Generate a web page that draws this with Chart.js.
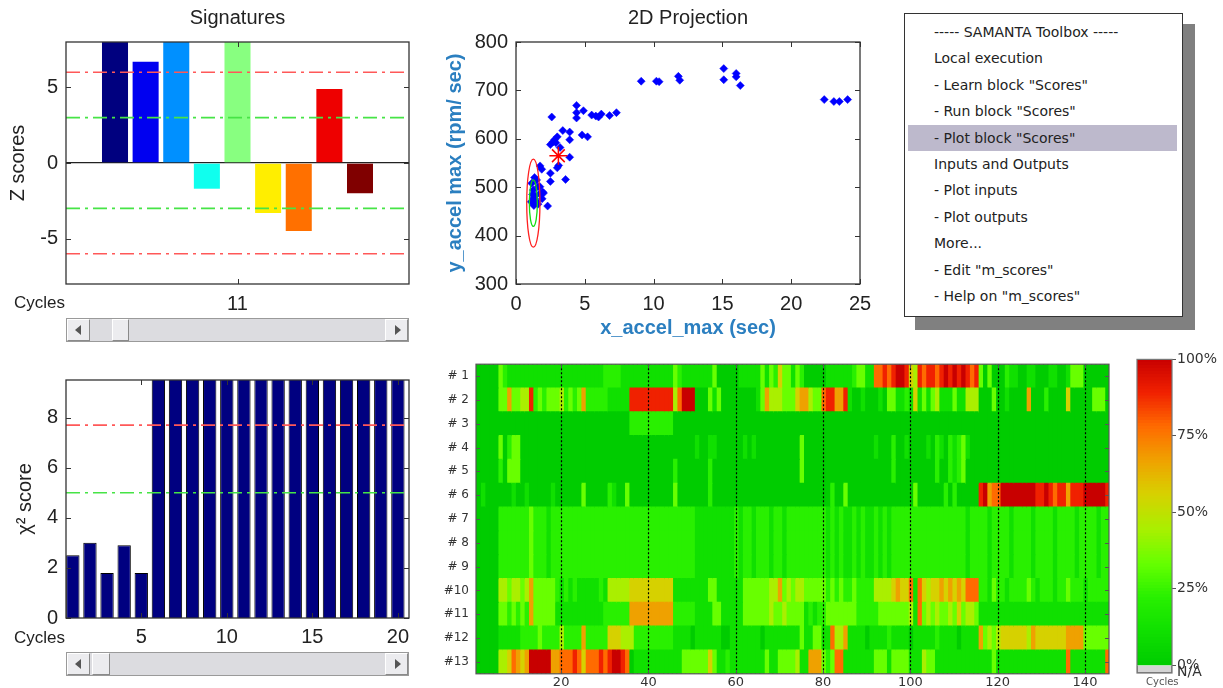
<!DOCTYPE html>
<html><head><meta charset="utf-8">
<script src="https://cdn.jsdelivr.net/npm/chart.js@4.4.1/dist/chart.umd.min.js"></script>
<style>
html,body{margin:0;padding:0;background:#fff;width:1223px;height:688px;overflow:hidden;}
body{position:relative;font-family:"Liberation Sans",Arial,sans-serif;color:#222;}
.pane{position:absolute;}
.lbl{position:absolute;font-size:17px;line-height:20px;color:#222;}
.sb{position:absolute;background:#dcdce0;border:1px solid #9a9a9a;box-sizing:border-box;}
.sb .btn,.sb .thumb{position:absolute;top:0;bottom:0;background:#ececef;border:1px solid;border-color:#fff #8a8a8a #8a8a8a #fff;box-sizing:border-box;}
.sb .btn.l{left:0;width:23px;}
.sb .btn.r{right:0;width:23px;}
.tri{position:absolute;top:50%;margin-top:-5px;width:0;height:0;border-top:5px solid transparent;border-bottom:5px solid transparent;}
.btn.l .tri{left:7px;border-right:6px solid #555;}
.btn.r .tri{left:9px;border-left:6px solid #555;}
#menuShadow{position:absolute;left:915px;top:24px;width:280px;height:306px;background:#808080;}
#menu{position:absolute;left:904px;top:13px;width:277px;height:302px;border:1px solid #333;background:#fff;font-family:"DejaVu Sans",sans-serif;font-size:14px;color:#222;}
#menu .it{position:absolute;left:0;right:0;height:26px;line-height:26px;padding-left:29px;white-space:nowrap;}
#menu .it.hl{background:#bdb9cc;left:3px;right:5px;padding-left:26px;}
</style></head>
<body>
<div class="pane" style="left:0;top:0;width:420px;height:320px"><canvas id="cSig"></canvas></div>
<div class="lbl" style="left:14px;top:293px">Cycles</div>
<div class="sb" style="left:66px;top:318px;width:343px;height:24px">
  <div class="btn l"><div class="tri"></div></div>
  <div class="thumb" style="left:45px;width:17px"></div>
  <div class="btn r"><div class="tri"></div></div>
</div>

<div class="pane" style="left:0;top:360px;width:420px;height:300px"><canvas id="cChi"></canvas></div>
<div class="lbl" style="left:14px;top:628px">Cycles</div>
<div class="sb" style="left:66px;top:652px;width:343px;height:24px">
  <div class="btn l"><div class="tri"></div></div>
  <div class="thumb" style="left:25px;width:18px"></div>
  <div class="btn r"><div class="tri"></div></div>
</div>

<div class="pane" style="left:430px;top:0;width:450px;height:345px"><canvas id="cSc"></canvas></div>

<div id="menuShadow"></div>
<div id="menu"></div>

<div class="pane" style="left:420px;top:350px;width:700px;height:338px"><canvas id="cHeat"></canvas></div>
<div class="pane" style="left:1125px;top:350px;width:98px;height:338px"><canvas id="cBar"></canvas></div>
<div style="position:absolute;left:1146px;top:676px;font:10px 'DejaVu Sans',sans-serif;color:#555">Cycles</div>

<script>
// ---------------- DATA ----------------
// Signatures (Z scores at the selected cycle)
const sigCycle = '11';
const sigVars = [1, 2, 3, 4, 5, 6, 7, 8, 9];
const sigScores = [10.2, 6.7, 9.1, -1.7, 8.7, -3.3, -4.5, 4.9, -2.0];
const sigRedLimits = [6, -6];
const sigGreenLimits = [3, -3];
const sigYTicks = [-5, 0, 5];

// Chi-square scores per cycle
const chiCycles = [1,2,3,4,5,6,7,8,9,10,11,12,13,14,15,16,17,18,19,20];
const chiScores = [2.5, 3.0, 1.8, 2.9, 1.8, 24, 22, 26, 23, 25, 21, 24, 27, 22, 25, 23, 26, 24, 22, 25];
const chiRedLimit = [7.7];
const chiGreenLimit = [5.0];
const chiXTicks = [5, 10, 15, 20];
const chiYTicks = [0, 2, 4, 6, 8];

// 2D projection
const scX = [9.1,10.2,10.4,11.8,11.9,15.1,15.1,16.0,16.0,16.3,22.4,23.1,23.5,24.1,
  4.4,4.4,4.4,4.9,2.6,5.5,5.8,6.0,6.2,6.8,7.3,4.8,5.2,3.4,3.9,3.9,2.5,2.7,2.8,3.0,2.9,3.2,3.9,3.0,3.1,3.6,2.5,2.5,2.3,1.75,1.87,2.0,1.9,
  1.5,1.6,1.74,1.26,1.26,1.5,1.14,1.74,1.94,1.3,1.4,1.2,1.6,1.35,1.1];
const scY = [719,719,718,729,721,745,722,735,728,710,681,677,677,681,
  669,654,643,658,645,649,647,645,651,648,654,608,604,617,614,598,588,594,598,604,592,582,562,540,545,516,529,512,461,544,537,488,476,
  515,501,487,494,477,470,508,501,490,462,482,485,465,520,470];
const starX = [3.08];
const starY = [565];
const ellCx = [1.26, 1.26];
const ellCy = [467, 467];
const ellRx = [0.48, 0.29];
const ellRy = [91, 48];

// Heat map: one string per signature, one digit per cycle (0 = 0% ... 9 = 100%)
const heatLabels = ['# 1','# 2','# 3','# 4','# 5','# 6','# 7','# 8','# 9','#10','#11','#12','#13'];
const R1  = "00000 32 111111111111 1111111111 2222 111 111111111 32 1111111 3 00000 11111 31325331 32 00000111111 2331 1 7787 8998 54 87887898 989878 3030002 11001100011001 333 000000";
const R2  = "00000 33 6 33 44 8 232333 4 2323 6 22222 11111 8 888888888 47999 000 313 00000000 136444333 566433788668 100100010 33 1121 5 13134111 311444 000 3 0010000 6 000 2 0000 5 00000 333 0";
const R3  = "0000000000 0000000000 0000000000 00000 2222222222 0000000000 0000000000 0000000000 0000000000 0000000000 0000000000 0000000000 0000000000 0000000000 0000000000";
const R4  = "00000 30233 0000000000 0000000000 0000000000 0000000000 10011 000000 101 0000000000 3 0000000000000000 1 000 2 00 1 0000 1021021231 0000000000 0000000000 0000000000 00";
const R5  = "00000 20333 0000000000 0000000000 0000000000 00000 2 0000000 2 0000000000 0000000000 3 0000000000 0000000000 2 000000000 2 00 2123 0000000000 0000000000 0000000000 000";
const R6  = "010000001001 000001000000 3 00000 2 100 3 0000000000 3 0000000 2 0000000000 0000000000 0000000 2 00 3 0000000000 00000 3 000000 2 0 2 00000 89 6 77 9999999 9889 8788 6 888 99999 8";
const R7  = "00000 22222 22 3 222122 22222222222 222222 222222222 22222 111111111 21221222122122 2222222 121211212112121 22222222222222 222122221222212222122221222212222122";
const R8  = "00000 22222 22 3 222122 22222222222 222222 222222222 22222 111111111 21221222122122 2222222 121211212112121 22222222222222 222122221222212222122221222212222122";
const R9  = "00000 22222 22 3 222122 22222222222 222222 222222222 22222 111111111 21221222122122 2222222 121211212112121 22222222222222 222122221222212222122221222212222122";
const R10 = "00000 44344346 33333 2 12121111121 44444 5 555555555 11111111 33 111111 3333 33 44 6 343 44 33333 23232232222 4444 5655 7 1 7 5455 6 56565 777 221 3 2212222 3 21222122 3 222122222";
const R11 = "00000 33 23232 6 33333 11111111111 222222 6 666666666 22222 1111 33 11111 3333 33433433 33 12122 3333333 22222 3333333 4 1 7 3434334 3 5 3 44 3 1111111111 1111111111 1111111111";
const R12 = "00000 11111 2222 3 2222 4 2222 6 22222 555 44 4 222222222 1111011111 1001111111 01111111 131133 11 7 44 6 1111011112 1111011111 2111101111 6 3434 5555554 6 5555555 6666 333333";
const R13 = "00000 445 76 56 99999 66 77787 5 77787 8998 7 0 11111111111 333333 5 3 11211111111 3 11 3333 4 11 666 3 23 77 1111111 333 1 3333 111 4 33 1111111111111 3 1111111111111111 7 11111111 7";
const heatXTicks = [20, 40, 60, 80, 100, 120, 140];
const barTicks = [100, 75, 50, 25, 0];
const naLabel = 'N/A';

// colour map (fraction -> rgb)
const cmapPos = [0, 0.11, 0.22, 0.33, 0.44, 0.56, 0.67, 0.78, 0.89, 1];
const cmapRGB = [[0,204,0],[16,224,0],[40,240,0],[102,255,0],[168,240,0],[216,208,0],[240,160,0],[255,106,0],[240,32,0],[200,0,0]];

// ---------------- HELPERS ----------------
function cmap(t) {
  t = Math.max(0, Math.min(1, t));
  let i = 0;
  while (i < cmapPos.length - 2 && t > cmapPos[i + 1]) i++;
  const f = (t - cmapPos[i]) / (cmapPos[i + 1] - cmapPos[i]);
  const a = cmapRGB[i], b = cmapRGB[i + 1];
  return 'rgb(' + a.map((v, k) => Math.round(v + (b[k] - v) * f)).join(',') + ')';
}
const ticksAt = vals => s => { s.ticks = vals.map(v => ({ value: v })); };

Chart.defaults.font.family = '"Liberation Sans", Arial, sans-serif';
Chart.defaults.font.size = 20;
Chart.defaults.color = '#222';
Chart.defaults.animation = false;
Chart.defaults.plugins.legend.display = false;
Chart.defaults.plugins.tooltip.enabled = false;

const matlabAxes = {
  id: 'matlab',
  afterDatasetsDraw(chart, args, o) {
    if (!o || o.off) return;
    const ctx = chart.ctx, a = chart.chartArea;
    ctx.save();
    if (o.vlines) {
      const s = chart.scales.x;
      ctx.strokeStyle = '#000'; ctx.lineWidth = 1.2; ctx.setLineDash([2, 2]);
      s.ticks.forEach((t, i) => {
        const x = Math.round(s.getPixelForTick(i)) + 0.5;
        ctx.beginPath(); ctx.moveTo(x, a.top); ctx.lineTo(x, a.bottom); ctx.stroke();
      });
      ctx.setLineDash([]);
    }
    const len = o.tickLen || 0;
    ctx.strokeStyle = o.color || '#333'; ctx.lineWidth = 1;
    if (len) {
      Object.values(chart.scales).forEach(s => {
        if (!s.options.display) return;
        s.ticks.forEach((t, i) => {
          const p = Math.round(s.getPixelForTick(i)) + 0.5;
          ctx.beginPath();
          if (s.isHorizontal()) {
            ctx.moveTo(p, a.bottom); ctx.lineTo(p, a.bottom - len);
            ctx.moveTo(p, a.top); ctx.lineTo(p, a.top + len);
          } else {
            ctx.moveTo(a.left, p); ctx.lineTo(a.left + len, p);
            ctx.moveTo(a.right, p); ctx.lineTo(a.right - len, p);
          }
          ctx.stroke();
        });
      });
    }
    ctx.lineWidth = o.boxWidth || 1.3;
    ctx.strokeRect(a.left, a.top, a.right - a.left, a.bottom - a.top);
    ctx.restore();
  }
};
Chart.register(matlabAxes);

function limitLine(v, color, xmin, xmax) {
  return { type: 'line', data: [{ x: xmin, y: v }, { x: xmax, y: v }], borderColor: color,
    borderWidth: 1.6, borderDash: [14, 5, 3, 5], pointRadius: 0, order: 0, clip: 0 };
}
const RED_LIM = 'rgb(255,88,88)', GREEN_LIM = 'rgb(70,228,70)';
const NO_GRID = { display: false, drawTicks: false, offset: false };

// ---------------- SIGNATURES ----------------
const sigXRange = [-0.6, 10.6];
const sigColors = ['#00007f', '#0000f0', '#0090ff', '#10ffee', '#88ff80', '#ffee00', '#ff7000', '#ee0000', '#800000'];
new Chart(document.getElementById('cSig'), {
  type: 'bar',
  data: { datasets: [
    ...sigRedLimits.map(v => limitLine(v, RED_LIM, sigXRange[0], sigXRange[1])),
    ...sigGreenLimits.map(v => limitLine(v, GREEN_LIM, sigXRange[0], sigXRange[1])),
    { type: 'bar', data: sigVars.map((v, i) => ({ x: v, y: sigScores[i] })), backgroundColor: sigColors,
      barPercentage: 0.85, categoryPercentage: 1, clip: 0, order: 2 }
  ]},
  options: {
    responsive: true, maintainAspectRatio: false,
    layout: { padding: { top: 0, left: 0, right: 11, bottom: 0 } },
    plugins: {
      title: { display: true, text: 'Signatures', fullSize: false, font: { size: 20, weight: 'normal' }, padding: { top: 6, bottom: 12 }, color: '#222' },
      matlab: { tickLen: 5 }
    },
    scales: {
      x: { type: 'linear', offset: false, min: sigXRange[0], max: sigXRange[1], afterBuildTicks: ticksAt([5]),
        ticks: { callback: () => sigCycle, padding: 8, maxRotation: 0 },
        grid: NO_GRID, border: { display: false }, afterFit: s => { s.height = 36; } },
      y: { min: -8, max: 8, afterBuildTicks: ticksAt(sigYTicks), ticks: { padding: 8 },
        grid: { color: c => (c.tick && c.tick.value === 0) ? '#222' : 'rgba(0,0,0,0)', lineWidth: 1.3, drawTicks: false },
        border: { display: false },
        title: { display: true, text: 'Z scores', padding: { top: 6, bottom: 0 }, font: { size: 20 } },
        afterFit: s => { s.width = 66; } }
    }
  }
});

// ---------------- CHI2 ----------------
const chiXRange = [0.6, 20.65];
new Chart(document.getElementById('cChi'), {
  type: 'bar',
  data: { datasets: [
    ...chiRedLimit.map(v => limitLine(v, RED_LIM, chiXRange[0], chiXRange[1])),
    ...chiGreenLimit.map(v => limitLine(v, GREEN_LIM, chiXRange[0], chiXRange[1])),
    { type: 'bar', data: chiCycles.map((c, i) => ({ x: c, y: chiScores[i] })), backgroundColor: '#000080',
      borderColor: '#000', borderWidth: 1, barPercentage: 0.78, categoryPercentage: 1, clip: 0, order: 2 }
  ]},
  options: {
    responsive: true, maintainAspectRatio: false,
    layout: { padding: { top: 17, left: 0, right: 11, bottom: 0 } },
    plugins: { matlab: { tickLen: 5 } },
    scales: {
      x: { type: 'linear', offset: false, min: chiXRange[0], max: chiXRange[1], afterBuildTicks: ticksAt(chiXTicks),
        ticks: { padding: 7, maxRotation: 0 }, grid: NO_GRID, border: { display: false },
        afterFit: s => { s.height = 42; } },
      y: { min: 0, max: 9.5, afterBuildTicks: ticksAt(chiYTicks), ticks: { padding: 8 },
        grid: NO_GRID, border: { display: false },
        title: { display: true, text: 'χ² score', padding: { top: 13, bottom: 0 }, font: { size: 20 } },
        afterFit: s => { s.width = 66; } }
    }
  }
});

// ---------------- 2D PROJECTION ----------------
const ellColors = ['#ff2020', '#10dd10'];
const ellipsePlugin = {
  id: 'ellipses',
  afterDatasetsDraw(chart) {
    const ctx = chart.ctx, xs = chart.scales.x, ys = chart.scales.y, a = chart.chartArea;
    ctx.save();
    ctx.beginPath(); ctx.rect(a.left, a.top, a.right - a.left, a.bottom - a.top); ctx.clip();
    ellCx.forEach((cx, i) => {
      const px = xs.getPixelForValue(cx), py = ys.getPixelForValue(ellCy[i]);
      const rx = Math.abs(xs.getPixelForValue(cx + ellRx[i]) - px);
      const ry = Math.abs(ys.getPixelForValue(ellCy[i] + ellRy[i]) - py);
      ctx.strokeStyle = ellColors[i]; ctx.lineWidth = 1.3;
      ctx.beginPath(); ctx.ellipse(px, py, rx, ry, 0, 0, Math.PI * 2); ctx.stroke();
    });
    ctx.restore();
  }
};
const AX_BLUE = '#2b7fc0';
new Chart(document.getElementById('cSc'), {
  type: 'scatter',
  data: { datasets: [
    { data: starX.map((x, i) => ({ x, y: starY[i] })), pointStyle: 'star', pointRadius: 9, borderColor: '#ff0000', backgroundColor: '#ff0000', borderWidth: 1.5, order: 0 },
    { data: scX.map((x, i) => ({ x, y: scY[i] })), pointStyle: 'rectRot', pointRadius: 4, backgroundColor: '#0000ff', borderColor: '#0000ff', borderWidth: 0.5, order: 1 }
  ]},
  options: {
    responsive: true, maintainAspectRatio: false,
    layout: { padding: { top: 0, left: 0, right: 20, bottom: 0 } },
    plugins: {
      title: { display: true, text: '2D Projection', fullSize: false, font: { size: 20, weight: 'normal' }, padding: { top: 6, bottom: 12 }, color: '#222' },
      matlab: { tickLen: 5 }
    },
    scales: {
      x: { type: 'linear', min: 0, max: 25, afterBuildTicks: ticksAt([0, 5, 10, 15, 20, 25]), ticks: { padding: 8, maxRotation: 0 },
        grid: NO_GRID, border: { display: false },
        title: { display: true, text: 'x_accel_max (sec)', color: AX_BLUE, font: { size: 20, weight: 'bold' }, padding: { top: 0, bottom: 5 } },
        afterFit: s => { s.height = 61; } },
      y: { min: 300, max: 800, afterBuildTicks: ticksAt([300, 400, 500, 600, 700, 800]), ticks: { padding: 8 },
        grid: NO_GRID, border: { display: false },
        title: { display: true, text: 'y_accel max (rpm/ sec)', color: AX_BLUE, font: { size: 20, weight: 'bold' }, padding: { top: 13, bottom: 0 } },
        afterFit: s => { s.width = 86; } }
    }
  },
  plugins: [ellipsePlugin]
});

// ---------------- MENU ----------------
const menuItems = ['----- SAMANTA Toolbox -----', 'Local execution', '- Learn block "Scores"', '- Run block "Scores"',
  '- Plot block "Scores"', 'Inputs and Outputs', '- Plot inputs', '- Plot outputs', 'More...', '- Edit "m_scores"', '- Help on "m_scores"'];
const menuSelected = 4;
const menu = document.getElementById('menu');
menuItems.forEach((t, i) => {
  const d = document.createElement('div');
  d.className = 'it' + (i === menuSelected ? ' hl' : '');
  d.style.top = (5 + 26.4 * i) + 'px';
  d.textContent = t;
  menu.appendChild(d);
});

// ---------------- HEAT MAP ----------------
const heatRows = [R1, R2, R3, R4, R5, R6, R7, R8, R9, R10, R11, R12, R13].map(s => s.replace(/\s+/g, '').split('').map(Number));
const nCycles = heatRows[0].length;
const heatDatasets = [];
for (let c = 1; c <= nCycles; c++) {
  heatDatasets.push({
    data: heatRows.map(() => [c - 0.5, c + 0.5]),
    backgroundColor: heatRows.map(r => cmap(r[c - 1] / 9)),
    borderWidth: 0, inflateAmount: 0.6, grouped: false, barPercentage: 1, categoryPercentage: 1, clip: 0
  });
}
new Chart(document.getElementById('cHeat'), {
  type: 'bar',
  data: { labels: heatLabels, datasets: heatDatasets },
  options: {
    indexAxis: 'y', responsive: true, maintainAspectRatio: false,
    layout: { padding: { top: 9, left: 0, right: 11, bottom: 0 } },
    plugins: { matlab: { tickLen: 4, vlines: true, color: '#555', boxWidth: 1.2 } },
    scales: {
      x: { type: 'linear', min: 0.5, max: nCycles + 0.5, afterBuildTicks: ticksAt(heatXTicks),
        ticks: { padding: 1, maxRotation: 0, font: { family: '"DejaVu Sans", sans-serif', size: 13 }, color: '#333' },
        grid: NO_GRID, border: { display: false }, afterFit: s => { s.height = 14; } },
      y: { type: 'category', offset: true, ticks: { padding: 7, font: { family: '"DejaVu Sans", sans-serif', size: 12 }, color: '#333' },
        grid: { display: false, drawTicks: false, offset: true }, border: { display: false }, afterFit: s => { s.width = 56; } }
    }
  }
});

// ---------------- COLOUR BAR ----------------
const barDatasets = [];
for (let p = 0; p < 100; p++) {
  barDatasets.push({ data: [[p, p + 1]], backgroundColor: cmap((p + 0.5) / 100), borderWidth: 0, inflateAmount: 0.6,
    grouped: false, barPercentage: 1, categoryPercentage: 1, clip: 0 });
}
barDatasets.push({ data: [[-2.6, 0]], backgroundColor: '#d4d4d4', borderColor: '#666', borderWidth: 1, grouped: false,
  barPercentage: 1, categoryPercentage: 1, clip: 0 });
new Chart(document.getElementById('cBar'), {
  type: 'bar',
  data: { labels: [''], datasets: barDatasets },
  options: {
    responsive: true, maintainAspectRatio: false,
    layout: { padding: { top: 9, left: 12, right: 0, bottom: 15 } },
    plugins: { matlab: { tickLen: 0, color: '#777', boxWidth: 1.2 } },
    scales: {
      x: { display: false },
      y: { position: 'right', min: -2.6, max: 100,
        afterBuildTicks: s => { s.ticks = barTicks.map(v => ({ value: v })).concat([{ value: -2.3 }]); },
        ticks: { padding: 1, callback: v => v < 0 ? naLabel : v + '%', font: { family: '"DejaVu Sans", sans-serif', size: 14 }, color: '#333' },
        grid: { drawOnChartArea: false, drawTicks: true, tickLength: 4, color: c => (c.tick && c.tick.value < 0) ? 'rgba(0,0,0,0)' : '#555' },
        border: { display: false }, afterFit: s => { s.width = 51; } }
    }
  }
});
</script>
</body></html>
